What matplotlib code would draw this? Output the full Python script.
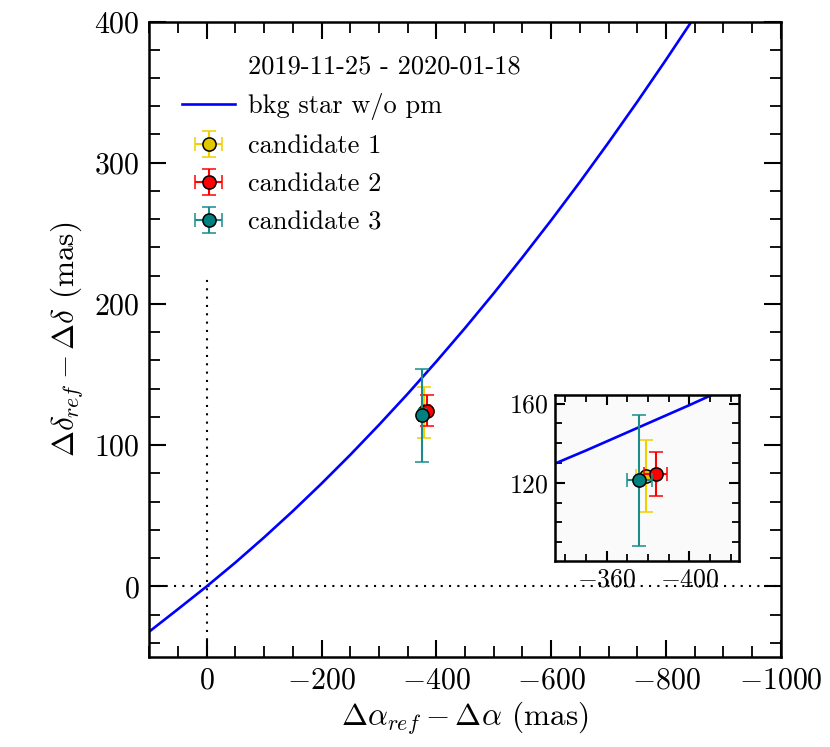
import numpy as np
import matplotlib
matplotlib.use('Agg')
import matplotlib.pyplot as plt
from matplotlib.ticker import MultipleLocator
from matplotlib.lines import Line2D

plt.rcParams['font.family'] = 'serif'
plt.rcParams['font.serif'] = ['cmr10']
plt.rcParams['mathtext.fontset'] = 'cm'
plt.rcParams['axes.formatter.use_mathtext'] = True

# background star track (no proper motion)
track_x = [100, 50, 0, -50, -100, -150, -200, -250, -300, -350, -400, -450,
           -500, -550, -600, -650, -700, -750, -800, -850]
track_y = [-32, -16.1, 0, 16.9, 34.7, 53.3, 72.8, 93.1, 114.3, 136.3, 159.2, 182.9,
           207.5, 233.0, 259.2, 286.3, 314.3, 343.1, 372.8, 403.3]

# candidates
names = ['candidate 1', 'candidate 2', 'candidate 3']
cand_x = [-379.2, -383.7, -375.7]
cand_y = [123.4, 124.3, 121.2]
cand_xerr = [5, 5.5, 6]
cand_yerr = [18, 11, 33]
face_cols = ['#e3c800', 'red', 'teal']
bar_cols = ['#f0d000', 'red', '#1a8c8c']

epoch = '2019-11-25 - 2020-01-18'

fig = plt.figure(figsize=(8.3, 7.47), dpi=100)
ax = fig.add_axes([0.1799, 0.1205, 0.7607, 0.8507])


def style(a, major, minor, size):
    a.tick_params(which='both', direction='in', top=True, right=True,
                  labelsize=size)
    a.tick_params(which='major', length=major, width=1.5, pad=7)
    a.tick_params(which='minor', length=minor, width=1.3)
    for s in a.spines.values():
        s.set_linewidth(1.8)


def draw(a):
    a.plot(track_x, track_y, color='blue', lw=1.9, zorder=2)
    for i in range(len(names)):
        a.errorbar(cand_x[i], cand_y[i], xerr=cand_xerr[i], yerr=cand_yerr[i],
                   fmt='o', ms=9.5, mfc=face_cols[i], mec='black', mew=1.1,
                   ecolor=bar_cols[i], elinewidth=1.5, capsize=5, capthick=1.5,
                   zorder=3 + i)


draw(ax)
ax.axhline(0, color='black', ls=(0, (1, 3)), lw=1.5, zorder=1)
ax.plot([0, 0], [-50, 220], color='black', ls=(0, (1, 3)), lw=1.5, zorder=1)

ax.set_xlim(100, -1000)
ax.set_ylim(-50, 400)
ax.xaxis.set_major_locator(MultipleLocator(200))
ax.xaxis.set_minor_locator(MultipleLocator(50))
ax.yaxis.set_major_locator(MultipleLocator(100))
ax.yaxis.set_minor_locator(MultipleLocator(20))
style(ax, 12.5, 8, 21.5)
ax.set_xlabel(r'$\Delta\alpha_{ref} - \Delta\alpha$ (mas)', fontsize=22.5, labelpad=4)
ax.set_ylabel(r'$\Delta\delta_{ref} - \Delta\delta$ (mas)', fontsize=22.5, labelpad=6)

blank = Line2D([], [], color='none')
line_h = Line2D([], [], color='blue', lw=1.9)
ax.legend([blank, line_h] + list(ax.containers), [epoch, 'bkg star w/o pm'] + names,
          loc='upper left', frameon=False, fontsize=19,
          handletextpad=0.5, borderaxespad=0.85, labelspacing=0.55)

# zoomed inset
ins = fig.add_axes([0.6687, 0.249, 0.2217, 0.2222])
ins.set_facecolor('#fafafa')
draw(ins)
ins.set_xlim(-335, -424)
ins.set_ylim(80.5, 164.3)
ins.xaxis.set_major_locator(MultipleLocator(40))
ins.xaxis.set_minor_locator(MultipleLocator(10))
ins.yaxis.set_major_locator(MultipleLocator(40))
ins.yaxis.set_minor_locator(MultipleLocator(10))
style(ins, 7, 5, 18.5)
ins.tick_params(which='major', pad=5)

fig.savefig('out.png', dpi=100)
